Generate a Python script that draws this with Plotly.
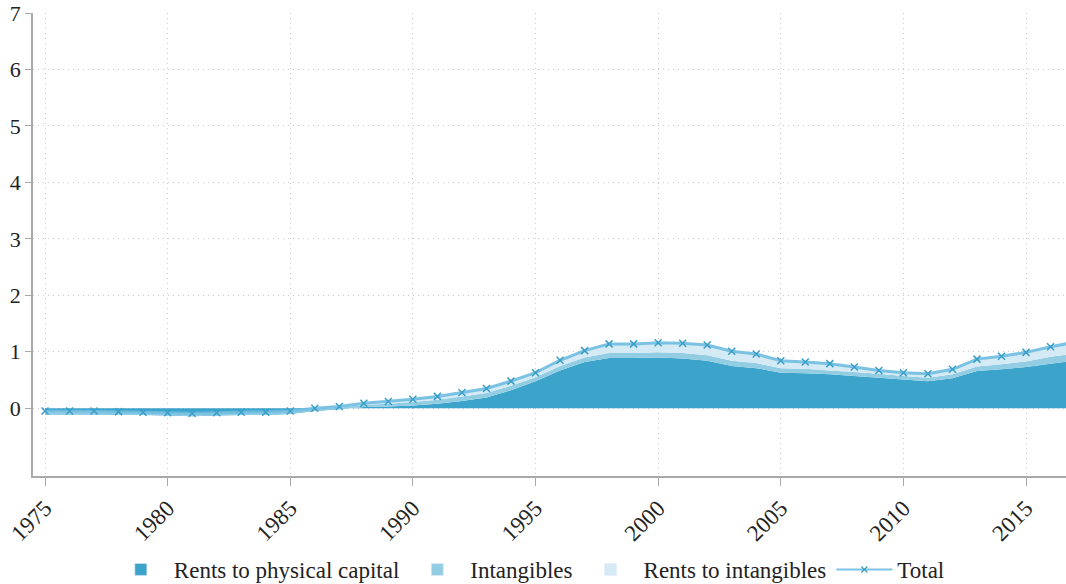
import plotly.graph_objects as go

years = list(range(1975, 2018))

physical = [-0.11, -0.11, -0.11, -0.12, -0.12, -0.13, -0.14, -0.13, -0.12, -0.12, -0.10,
            -0.05, -0.02, 0.02, 0.03, 0.05, 0.08, 0.13, 0.19, 0.32, 0.48, 0.67, 0.82,
            0.89, 0.89, 0.90, 0.88, 0.84, 0.75, 0.71, 0.63, 0.62, 0.60, 0.57, 0.54,
            0.51, 0.48, 0.53, 0.66, 0.69, 0.73, 0.79, 0.84]
intangibles = [0.03, 0.03, 0.03, 0.03, 0.03, 0.03, 0.03, 0.03, 0.03, 0.03, 0.03,
               0.03, 0.03, 0.04, 0.05, 0.06, 0.07, 0.08, 0.08, 0.08, 0.07, 0.08, 0.08,
               0.09, 0.09, 0.09, 0.10, 0.10, 0.09, 0.09, 0.08, 0.08, 0.07, 0.07, 0.07,
               0.06, 0.06, 0.07, 0.08, 0.09, 0.10, 0.12, 0.13]
rents_intangibles = [0.03, 0.03, 0.03, 0.03, 0.02, 0.02, 0.02, 0.02, 0.02, 0.02, 0.02,
                     0.02, 0.02, 0.03, 0.04, 0.05, 0.06, 0.07, 0.08, 0.08, 0.08, 0.10, 0.12,
                     0.16, 0.16, 0.17, 0.17, 0.18, 0.17, 0.16, 0.13, 0.12, 0.12, 0.09, 0.06,
                     0.06, 0.07, 0.09, 0.13, 0.14, 0.16, 0.18, 0.20]
total = [-0.05, -0.05, -0.05, -0.06, -0.07, -0.08, -0.09, -0.08, -0.07, -0.07, -0.05,
         0.00, 0.03, 0.09, 0.12, 0.16, 0.21, 0.28, 0.35, 0.48, 0.63, 0.85, 1.02,
         1.14, 1.14, 1.16, 1.15, 1.12, 1.01, 0.96, 0.84, 0.82, 0.79, 0.73, 0.67,
         0.63, 0.61, 0.69, 0.87, 0.92, 0.99, 1.09, 1.17]

y_ticks = [0, 1, 2, 3, 4, 5, 6, 7]
x_ticks = list(range(1975, 2020, 5))

FONT = "Liberation Serif"
C_PHYS = "#3ca4cb"
C_INT = "#93cde3"
C_RENT = "#d4eaf4"
C_LINE = "rgba(110,188,224,0.9)"
C_MARK = "#3a9fc8"

fig = go.Figure()
fig.add_trace(go.Scatter(x=years, y=physical, name="Rents to physical capital",
                         stackgroup="a", mode="none", fillcolor=C_PHYS, showlegend=False))
fig.add_trace(go.Scatter(x=years, y=intangibles, name="Intangibles",
                         stackgroup="a", mode="none", fillcolor=C_INT, showlegend=False))
fig.add_trace(go.Scatter(x=years, y=rents_intangibles, name="Rents to intangibles",
                         stackgroup="a", mode="none", fillcolor=C_RENT, showlegend=False))
fig.add_trace(go.Scatter(x=years, y=total, name="Total", mode="lines+markers",
                         line=dict(color=C_LINE, width=3),
                         marker=dict(symbol="x-thin", size=7, color=C_MARK,
                                     line=dict(color=C_MARK, width=1.5)),
                         showlegend=False))

# legend entries (square swatches like the reference)
for nm, col in [("Rents to physical capital", C_PHYS), ("Intangibles", C_INT),
                ("Rents to intangibles", C_RENT)]:
    fig.add_trace(go.Bar(x=[None], y=[None], name=nm, marker=dict(color=col),
                         showlegend=True))
fig.add_trace(go.Scatter(x=[None], y=[None], name="Total", mode="lines+markers",
                         line=dict(color=C_LINE, width=2),
                         marker=dict(symbol="x-thin", size=6, color=C_MARK,
                                     line=dict(color=C_MARK, width=1.2)),
                         showlegend=True))

GRID = "#c8c8c8"
fig.update_layout(
    width=1066, height=584,
    margin=dict(l=33, r=0, t=13, b=108, autoexpand=False),
    plot_bgcolor="white", paper_bgcolor="white",
    font=dict(family=FONT, size=22, color="#222"),
    showlegend=True,
    legend=dict(orientation="h", x=0.48, xanchor="center", y=-0.202, yanchor="middle",
                font=dict(family=FONT, size=23), traceorder="normal", itemwidth=56),
    xaxis=dict(range=[1974.51, 2016.63], tickvals=x_ticks, tickangle=-45,
               showgrid=True, gridcolor=GRID, griddash="1px,4px", gridwidth=1,
               showline=True, linecolor="#aaaaaa", linewidth=1.5,
               ticks="outside", ticklen=8, tickcolor="#aaaaaa", ticklabeloverflow="allow",
               zeroline=False, automargin=False, tickfont=dict(family=FONT, size=23)),
    yaxis=dict(range=[-1.2, 7], tickvals=y_ticks,
               showgrid=True, gridcolor=GRID, griddash="1px,4px", gridwidth=1,
               showline=True, linecolor="#aaaaaa", linewidth=1.5,
               ticks="outside", ticklen=6, tickcolor="#aaaaaa", ticklabeloverflow="allow",
               zeroline=False, automargin=False, tickfont=dict(family=FONT, size=22)),
)

fig.write_html("out.html", config={"displayModeBar": False},
               post_script="document.body.style.margin='0';")
